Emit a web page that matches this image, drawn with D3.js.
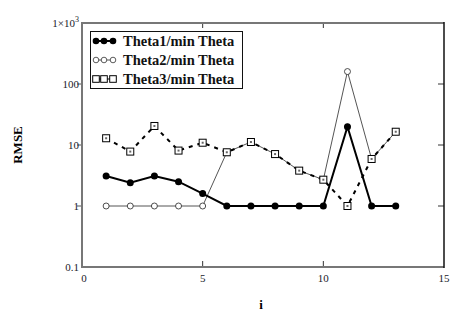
<!DOCTYPE html>
<html>
<head>
<meta charset="utf-8">
<script src="https://cdn.jsdelivr.net/npm/d3@7"></script>
<style>
  body { margin: 0; background: #fff; }
  text { font-family: "Liberation Serif", "Times New Roman", serif; }
</style>
</head>
<body>
<div id="vis"></div>
<script>
// data
const I_VALUES = [1, 2, 3, 4, 5, 6, 7, 8, 9, 10, 11, 12, 13];
const THETA1 = [3.1, 2.4, 3.1, 2.5, 1.6, 1, 1, 1, 1, 1, 20, 1, 1];
const THETA2 = [1, 1, 1, 1, 1, 7.6, 11.2, 7.1, 3.8, 2.7, 160, 5.9, 16.5];
const THETA3 = [12.9, 7.8, 20.5, 8.1, 10.9, 7.6, 11.2, 7.1, 3.8, 2.7, 1, 5.9, 16.5];
const SERIES_NAMES = ["Theta1/min Theta", "Theta2/min Theta", "Theta3/min Theta"];
const X_TICKS = [0, 5, 10, 15];
const Y_TICKS = [0.1, 1, 10, 100, 1000];

// frame
const FRAME_WIDTH = 463;
const FRAME_HEIGHT = 323;
const MARGINS = {left: 82, right: 19, top: 23, bottom: 56};
const VIS_WIDTH = FRAME_WIDTH - MARGINS.left - MARGINS.right;
const VIS_HEIGHT = FRAME_HEIGHT - MARGINS.top - MARGINS.bottom;

const FRAME = d3.select("#vis")
  .append("svg")
    .attr("width", FRAME_WIDTH)
    .attr("height", FRAME_HEIGHT);

const X = d3.scaleLinear().domain([0, 15]).range([MARGINS.left, MARGINS.left + VIS_WIDTH]);
const Y = d3.scaleLog().domain([0.1, 1000]).range([MARGINS.top + VIS_HEIGHT, MARGINS.top]);

const x0 = X(0), x1 = X(15), y0 = Y(0.1), y1 = Y(1000);

// ticks (inner ones)
const yInner = Y_TICKS.slice(1, 4);
const xInner = X_TICKS.slice(1, 3);
FRAME.selectAll(".ltick").data(yInner).enter().append("line")
  .attr("x1", x0 - 5).attr("x2", x0).attr("y1", d => Y(d)).attr("y2", d => Y(d))
  .attr("stroke", "#555").attr("stroke-width", 1);
FRAME.selectAll(".rtick").data(yInner).enter().append("line")
  .attr("x1", x1 - 6).attr("x2", x1).attr("y1", d => Y(d)).attr("y2", d => Y(d))
  .attr("stroke", "#333").attr("stroke-width", 1);
FRAME.selectAll(".ttick").data(xInner).enter().append("line")
  .attr("x1", d => X(d)).attr("x2", d => X(d)).attr("y1", y1).attr("y2", y1 + 5)
  .attr("stroke", "#333").attr("stroke-width", 1);
FRAME.selectAll(".btick").data(xInner).enter().append("line")
  .attr("x1", d => X(d)).attr("x2", d => X(d)).attr("y1", y0).attr("y2", y0 - 6)
  .attr("stroke", "#333").attr("stroke-width", 1);

// frame lines
FRAME.append("line").attr("x1", x0).attr("x2", x1).attr("y1", y1).attr("y2", y1)
  .attr("stroke", "#777").attr("stroke-width", 2);
FRAME.append("line").attr("x1", x0).attr("x2", x1).attr("y1", y0).attr("y2", y0)
  .attr("stroke", "#777").attr("stroke-width", 2);
FRAME.append("line").attr("x1", x0).attr("x2", x0).attr("y1", y1 - 1).attr("y2", y0 + 1)
  .attr("stroke", "#777").attr("stroke-width", 2);
FRAME.append("line").attr("x1", x1).attr("x2", x1).attr("y1", y1 - 1).attr("y2", y0 + 1)
  .attr("stroke", "#111").attr("stroke-width", 1.5);

// tick labels
FRAME.selectAll(".xlab").data(X_TICKS).enter().append("text")
  .attr("x", d => X(d) + (d === 0 ? 2 : 0)).attr("y", y0 + 15)
  .attr("text-anchor", "middle").attr("font-size", 11).attr("fill", "#1a1a2a")
  .text(d => d);

const yLabs = FRAME.selectAll(".ylab").data(Y_TICKS).enter().append("text")
  .attr("x", x0 - 3).attr("y", d => Y(d) + 4)
  .attr("text-anchor", "end").attr("font-size", 11).attr("fill", "#1a1a2a");
yLabs.each(function(d) {
  const t = d3.select(this);
  if (d === 1000) {
    t.append("tspan").text("1\u00d710");
    t.append("tspan").attr("dy", -5).attr("font-size", 8).text("3");
  } else {
    t.text(d);
  }
});

// axis titles
FRAME.append("text")
  .attr("transform", "translate(22," + ((y0 + y1) / 2) + ") rotate(-90)")
  .attr("text-anchor", "middle").attr("font-size", 13).attr("font-weight", "bold")
  .text("RMSE");
FRAME.append("text")
  .attr("x", (x0 + x1) / 2 - 2).attr("y", 309)
  .attr("text-anchor", "middle").attr("font-size", 13).attr("font-weight", "bold")
  .text("i");

// series
const line = d3.line().x(d => X(d[0])).y(d => Y(d[1]));
const pts = (vals) => I_VALUES.map((d, k) => [d, vals[k]]);

// Theta2: thin gray line, open circles
FRAME.append("path").datum(pts(THETA2)).attr("d", line)
  .attr("fill", "none").attr("stroke", "#555").attr("stroke-width", 1);
FRAME.selectAll(".c2").data(pts(THETA2)).enter().append("circle")
  .attr("cx", d => X(d[0])).attr("cy", d => Y(d[1])).attr("r", 3)
  .attr("fill", "#fff").attr("stroke", "#222").attr("stroke-width", 0.8);

// Theta1: thick black line, filled circles
FRAME.append("path").datum(pts(THETA1)).attr("d", line)
  .attr("fill", "none").attr("stroke", "#000").attr("stroke-width", 2);
FRAME.selectAll(".c1").data(pts(THETA1)).enter().append("circle")
  .attr("cx", d => X(d[0])).attr("cy", d => Y(d[1])).attr("r", 3.5)
  .attr("fill", "#000");

// Theta3: dashed black line, open squares
FRAME.append("path").datum(pts(THETA3)).attr("d", line)
  .attr("fill", "none").attr("stroke", "#000").attr("stroke-width", 2)
  .attr("stroke-dasharray", "4,5");
const sq = FRAME.selectAll(".s3").data(pts(THETA3)).enter().append("g")
  .attr("transform", d => "translate(" + X(d[0]) + "," + Y(d[1]) + ")");
sq.append("rect").attr("x", -3.5).attr("y", -3.5).attr("width", 7).attr("height", 7)
  .attr("fill", "#fff").attr("stroke", "#000").attr("stroke-width", 1);
sq.append("rect").attr("x", -1).attr("y", -1).attr("width", 2).attr("height", 2)
  .attr("fill", "#666");

// legend
const LEG = FRAME.append("g");
LEG.append("rect").attr("x", 90.5).attr("y", 31.5).attr("width", 152).attr("height", 57)
  .attr("fill", "#fff").attr("stroke", "#111").attr("stroke-width", 1);
const legY = [41, 60, 79];
const symX = [96, 104, 113];
SERIES_NAMES.forEach((name, k) => {
  const yy = legY[k];
  const g = LEG.append("g");
  g.append("line").attr("x1", symX[0]).attr("x2", symX[2]).attr("y1", yy).attr("y2", yy)
    .attr("stroke", k === 1 ? "#555" : "#000").attr("stroke-width", k === 0 ? 2 : 1);
  symX.forEach(sx => {
    if (k === 0) {
      g.append("circle").attr("cx", sx).attr("cy", yy).attr("r", 3.3).attr("fill", "#000");
    } else if (k === 1) {
      g.append("circle").attr("cx", sx).attr("cy", yy).attr("r", 2.8)
        .attr("fill", "#fff").attr("stroke", "#333").attr("stroke-width", 0.8);
    } else {
      g.append("rect").attr("x", sx - 3.3).attr("y", yy - 3.3).attr("width", 6.6).attr("height", 6.6)
        .attr("fill", "#fff").attr("stroke", "#000").attr("stroke-width", 1);
    }
  });
  g.append("text").attr("x", 123).attr("y", yy + 5)
    .attr("font-size", 14.5).attr("font-weight", "bold").attr("fill", "#111")
    .text(name);
});
</script>
</body>
</html>
